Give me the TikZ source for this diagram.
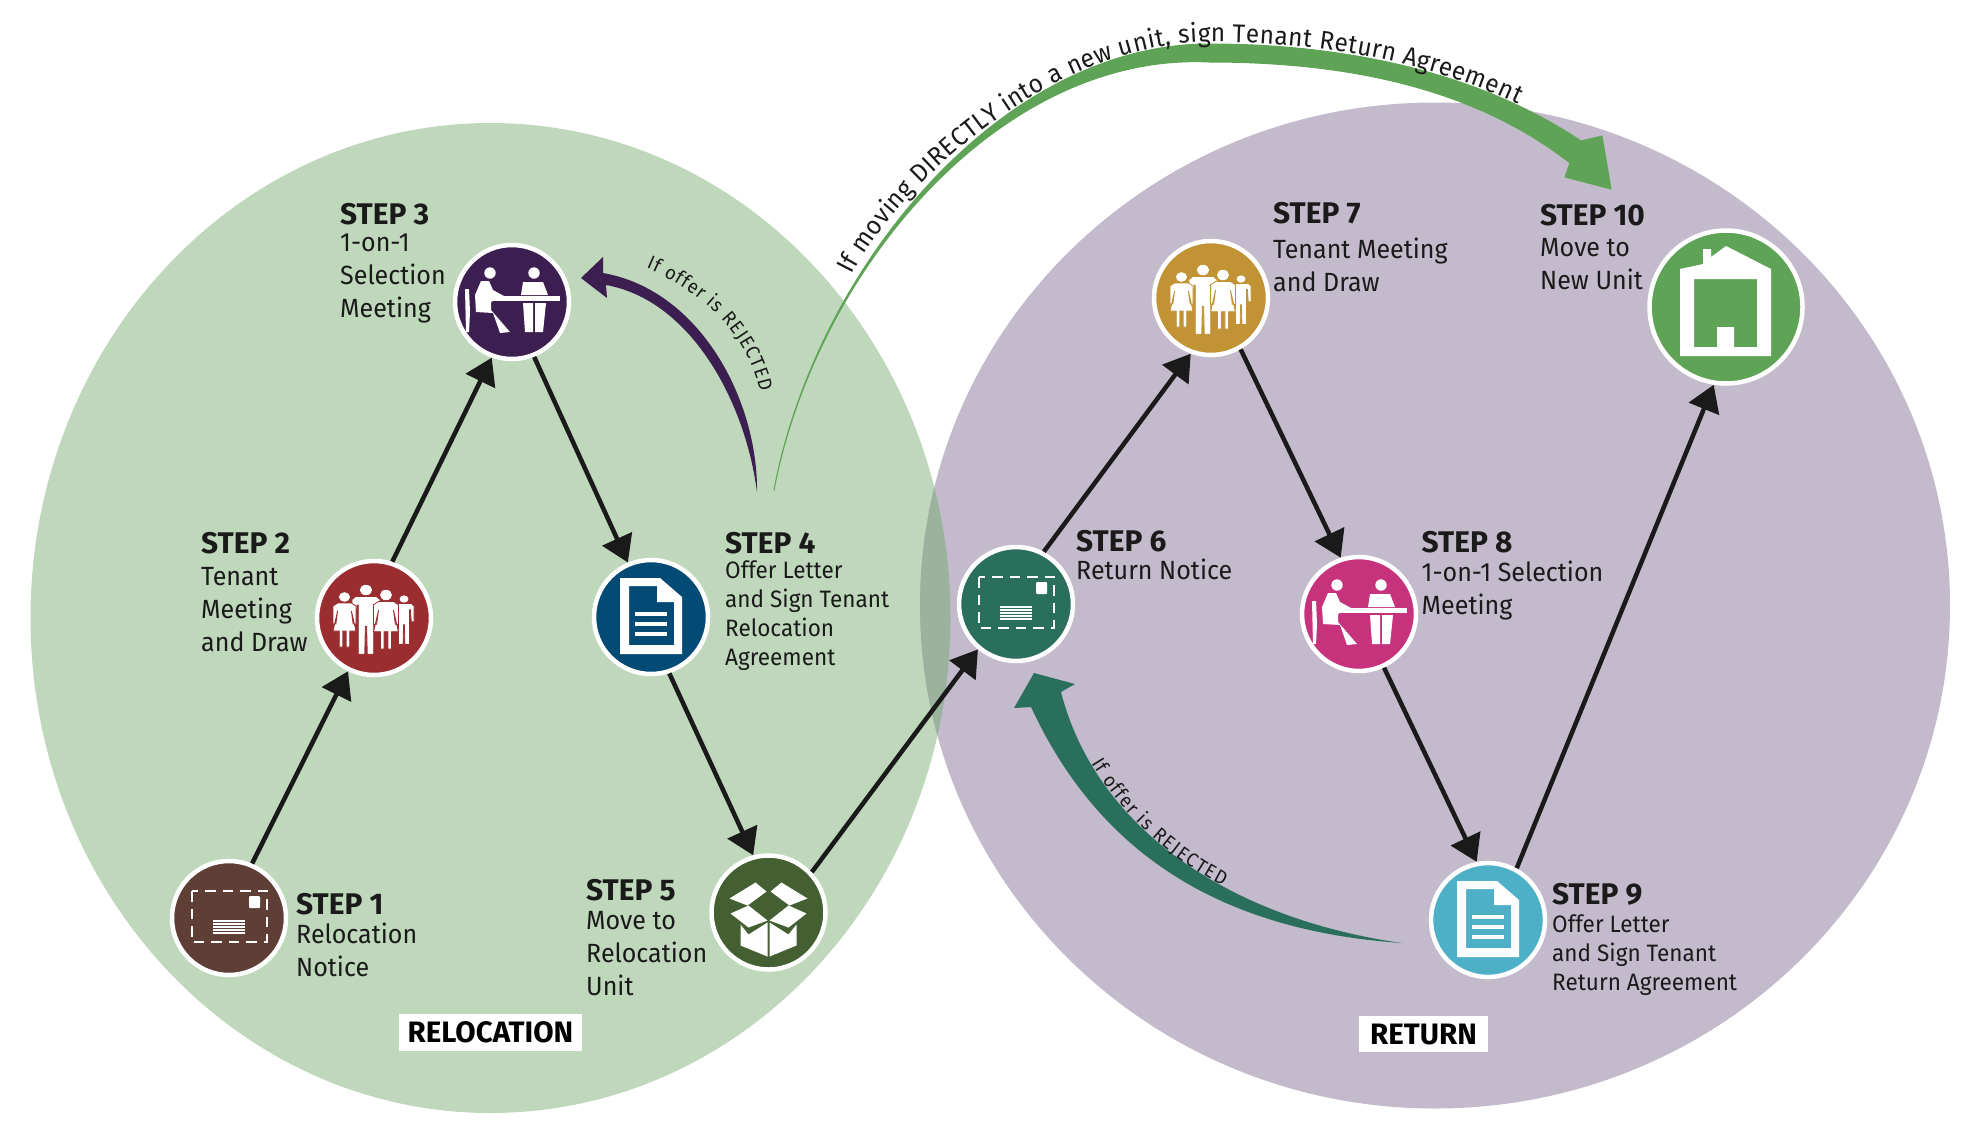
\documentclass[tikz,border=0pt]{standalone}
\usepackage{fontspec}
\setmainfont[FakeStretch=.95]{Fira Sans}
\newfontfamily\headfamily{Fira Sans}
\usepackage{xcolor}
\usepackage{tikz}
\usetikzlibrary{arrows.meta, decorations.text}

\definecolor{relocationgreen}{HTML}{BFD8BB}
\definecolor{returnpurple}{HTML}{C3BBCB}
\definecolor{overlapgreen}{HTML}{9BB39C}
\definecolor{inkblack}{HTML}{1A1A1A}
\definecolor{stepbrown}{HTML}{5F3F35}
\definecolor{stepred}{HTML}{9A2D2F}
\definecolor{stepplum}{HTML}{3C1E50}
\definecolor{stepblue}{HTML}{034A75}
\definecolor{stepolive}{HTML}{446033}
\definecolor{stepteal}{HTML}{2A6F5B}
\definecolor{stepgold}{HTML}{C19335}
\definecolor{stepmagenta}{HTML}{C6327C}
\definecolor{stepcyan}{HTML}{4EB0C7}
\definecolor{stepgreen}{HTML}{5FA356}

\newcommand{\stephead}[1]{{\headfamily\fontsize{8.5pt}{9.35pt}\selectfont\bfseries #1}}
\newcommand{\curvefont}{\fontsize{7.3pt}{8pt}\selectfont}
\newcommand{\rejectfont}{\fontsize{5.5pt}{6pt}\selectfont}

\begin{document}
\begin{tikzpicture}[
      x=.1mm,
      y=-.1mm,
      stepnode/.style={
        circle,
        draw=white,
        line width=.45mm,
        minimum size=11.4mm,
        inner sep=0pt
      },
      stepbig/.style={
        stepnode,
        minimum size=15.3mm
      },
      steparrow/.style={
        -{Triangle[length=2.6mm,width=3.2mm]},
        line width=.45mm,
        draw=inkblack
      },
      steplabel/.style={
        anchor=north west,
        align=left,
        inner sep=0pt,
        text=inkblack,
        font=\fontsize{7.5pt}{9.35pt}\selectfont
      },
      steplabelsmall/.style={
        steplabel,
        font=\fontsize{6.75pt}{8.24pt}\selectfont
      },
      regionbox/.style={
        fill=white,
        text=black,
        inner sep=0pt,
        minimum height=3.65mm,
        font=\headfamily\fontsize{8.4pt}{9pt}\selectfont\bfseries
      },
      iconfill/.style={
        fill=white,
        even odd rule
      },
      pics/envelope/.style={
        code={
          \draw[white, line width=.12mm, densely dashed] (-37,-27) rectangle (38,24);
          \fill[white, rounded corners=.1mm] (20,-22) rectangle (31,-10);
          \foreach \liney in {3,6,9,12,15}{
            \draw[white, line width=.14mm] (-16,\liney) -- (16,\liney);
          }
        }
      },
      pics/meeting/.style={
        code={
          \fill[iconfill] (-47,-13) -- (-43,-13) -- (-42,10) -- (-43,30) -- (-46,30) -- cycle;
          \fill[iconfill] (-22,-29) circle (.57mm);
          \fill[iconfill] (22,-29) circle (.57mm);
          \fill[iconfill] (-31,-21) -- (-23,-21) -- (-19,-12) -- (-8,-6) -- (-21,0) -- (-21,8)
            -- (-2,30) -- (-12,31) -- (-19,11) -- (-36,10) -- (-37,-7) -- cycle;
          \fill[iconfill] (-21,-6) rectangle (48,-1);
          \fill[iconfill] (11,-20) -- (31,-20) -- (36,-7) -- (9,-7) -- cycle;
          \fill[iconfill] (11,1) -- (21,1) -- (21,30) -- (13,30) -- cycle;
          \fill[iconfill] (23,1) -- (34,1) -- (31,30) -- (23,30) -- cycle;
        }
      },
      pics/family/.style={
        code={
          \foreach \fx/\fy/\fs in {-8/-28/1.07, 30/-19/.76}{
            \begin{scope}[shift={(\fx,\fy)}, xscale=1.2*\fs, yscale=\fs]
              \fill[white] (0,0) circle (.48mm);
              \filldraw[fill=white, draw=#1, line width=.08mm] (-8,6) -- (8,6) -- (11,9) -- (11,30) -- (8,30) -- (7,14)
                -- (6,14) -- (6,60) -- (1,60) -- (.5,34) -- (-.5,34) -- (-1,60) -- (-6,60)
                -- (-6,14) -- (-7,14) -- (-8,30) -- (-11,30) -- (-11,9) -- cycle;
            \end{scope}
          }
          \foreach \fx/\fy/\fs in {-29.5/-21/1, 12/-23/1.08}{
            \begin{scope}[shift={(\fx,\fy)}, xscale=1.15*\fs, yscale=\fs]
              \fill[white] (0,0) circle (.48mm);
              \filldraw[fill=white, draw=#1, line width=.08mm] (-6,6) -- (6,6) -- (10,9) -- (10,27) -- (7.5,27) -- (6,14)
                -- (10,34) -- (4.5,34) -- (4.5,50) -- (1.5,50) -- (1.5,34) -- (-1.5,34)
                -- (-1.5,50) -- (-4.5,50) -- (-4.5,34) -- (-10,34) -- (-6,14) -- (-7.5,27)
                -- (-10,27) -- (-10,9) -- cycle;
            \end{scope}
          }
        }
      },
      pics/document/.style={
        code={
          \fill[iconfill] (-31,-39) -- (9,-39) -- (31,-20) -- (31,37) -- (-31,37) -- cycle
            (-22,-31) -- (6,-31) -- (6,-15) -- (23,-15) -- (23,28) -- (-22,28) -- cycle;
          \foreach \liney in {-3,7,17}{
            \draw[white, line width=.35mm] (-16,\liney) -- (16,\liney);
          }
        }
      },
      pics/openbox/.style={
        code={
          \fill[iconfill] (-13,-30) -- (-39,-14) -- (-21,-7) -- (-2,-21) -- cycle;
          \fill[iconfill] (13,-30) -- (39,-14) -- (21,-7) -- (2,-21) -- cycle;
          \fill[iconfill] (-38,1) -- (-20,-7) -- (-1,8) -- (-20,15) -- cycle;
          \fill[iconfill] (38,1) -- (20,-7) -- (1,8) -- (20,15) -- cycle;
          \fill[iconfill] (-28,12) -- (-20,22) -- (-1,10) -- (-1,44) -- (-28,33) -- cycle;
          \fill[iconfill] (28,12) -- (20,22) -- (1,10) -- (1,44) -- (28,33) -- cycle;
        }
      },
      pics/house/.style={
        code={
          \fill[iconfill] (0,-61) -- (-15,-50) -- (-15,-58) -- (-23,-58) -- (-23,-43) -- (-46,-38)
            -- (-46,49) -- (45,49) -- (45,-38) -- cycle
            (-32,-28) -- (31,-28) -- (31,40) -- (8,40) -- (8,20) -- (-9,20) -- (-9,40) -- (-32,40) -- cycle;
        }
      }
    ]

    \useasboundingbox (0,0) rectangle (1982,1136);

    \fill[relocationgreen] (490.5,618) ellipse [x radius=4.6cm, y radius=4.95cm];
    \fill[returnpurple] (1435,605.5) ellipse [x radius=5.15cm, y radius=5.03cm];
    \begin{scope}
      \clip (490.5,618) ellipse [x radius=4.6cm, y radius=4.95cm];
      \fill[overlapgreen] (1435,605.5) ellipse [x radius=5.15cm, y radius=5.03cm];
    \end{scope}

    \node[stepnode, fill=stepbrown] (step1) at (229,918) {};
    \node[stepnode, fill=stepred] (step2) at (374,618) {};
    \node[stepnode, fill=stepplum] (step3) at (512,302) {};
    \node[stepnode, fill=stepblue] (step4) at (651,617) {};
    \node[stepnode, fill=stepolive] (step5) at (768.5,912.5) {};
    \node[stepnode, fill=stepteal] (step6) at (1016,604) {};
    \node[stepnode, fill=stepgold] (step7) at (1211,298) {};
    \node[stepnode, fill=stepmagenta] (step8) at (1359,614) {};
    \node[stepnode, fill=stepcyan] (step9) at (1488,920) {};
    \node[stepbig, fill=stepgreen] (step10) at (1726,307) {};

    \pic at (step1) {envelope};
    \pic at (step2) {family=stepred};
    \pic at (step3) {meeting};
    \pic at (step4) {document};
    \pic at (step5) {openbox};
    \pic at (step6) {envelope};
    \pic at (step7) {family=stepgold};
    \pic at (step8) {meeting};
    \pic at (step9) {document};
    \pic at (step10) {house};

    \draw[steparrow] (step1.67) -- (step2.244);
    \draw[steparrow] (step2.72) -- (step3.250);
    \draw[steparrow] (step3.-68) -- (step4.113);
    \draw[steparrow] (step4.-72) -- (step5.105);
    \draw[steparrow] (step5.43) -- (step6.230);
    \draw[steparrow] (step6.62) -- (step7.250);
    \draw[steparrow] (step7.-60) -- (step8.108);
    \draw[steparrow] (step8.-65) -- (step9.101);
    \draw[steparrow] (step9.61) -- (step10.261);

    \coordinate (offertail) at (757,492);
    \coordinate (offertip) at (581,278);
    \fill[stepplum] (offertail) .. controls (758,400) and (700,290) .. (603,273)
      -- (603,257) -- (offertip) -- (607,298) -- (606,285)
      .. controls (690,300) and (745,400) .. (offertail) -- cycle;

    \coordinate (returntail) at (1402,943);
    \coordinate (returntip) at (1034,673);
    \fill[stepteal] (returntail) .. controls (1225,918) and (1095,825) .. (1061,692)
      -- (1075,684) -- (returntip) -- (1014,708) -- (1031,707)
      .. controls (1095,845) and (1210,930) .. (returntail) -- cycle;

    \coordinate (directtail) at (774,490);
    \coordinate (directtip) at (1611,189);
    \filldraw[fill=stepgreen, draw=stepgreen, line width=.1mm, line join=round] (directtail) .. controls (815,270) and (1000,44) .. (1209,44)
      .. controls (1340,44) and (1475,70) .. (1581,141)
      -- (1602,136) -- (directtip) -- (1565,177) -- (1570,163)
      .. controls (1470,85) and (1340,62) .. (1209,62)
      .. controls (1000,52) and (816,270) .. (directtail) -- cycle;

    \path[decorate, decoration={text along path, text align={fit to path},
      text={|\curvefont\color{inkblack}|If moving DIRECTLY into a new unit, sign Tenant Return Agreement}}]
      (852,275) .. controls (892,194) and (1048,42) .. (1209,42) .. controls (1320,42) and (1430,62) .. (1518,104);

    \path[decorate, decoration={text along path, text align={fit to path},
      text={|\rejectfont\color{inkblack}|If offer is REJECTED}}]
      (646,268) .. controls (705,293) and (747,335) .. (760,392);

    \path[decorate, decoration={text along path, text align={fit to path},
      text={|\rejectfont\color{inkblack}|If offer is REJECTED}}]
      (1091,763) .. controls (1120,810) and (1160,853) .. (1223,886);

    \node[steplabel] (label1) at (295.5,893) {\stephead{STEP 1}\\[-.4mm]Relocation\\Notice};
    \node[steplabel] (label2) at (200.5,532) {\stephead{STEP 2}\\[-.1mm]Tenant\\Meeting\\and Draw};
    \node[steplabel] (label3) at (339.5,203) {\stephead{STEP 3}\\[-.6mm]1-on-1\\Selection\\Meeting};
    \node[steplabelsmall] (label4) at (724.5,532) {\stephead{STEP 4}\\[-.4mm]Offer Letter\\and Sign Tenant\\Relocation\\Agreement};
    \node[steplabel] (label5) at (585.5,879) {\stephead{STEP 5}\\[-.4mm]Move to\\Relocation\\Unit};
    \node[steplabel] (label6) at (1075.5,530) {\stephead{STEP 6}\\[-.5mm]Return Notice};
    \node[steplabel] (label7) at (1272.5,202) {\stephead{STEP 7}\\[.2mm]Tenant Meeting\\and Draw};
    \node[steplabel] (label8) at (1421,531) {\stephead{STEP 8}\\[-.4mm]1-on-1 Selection\\Meeting};
    \node[steplabelsmall] (label9) at (1551.5,883) {\stephead{STEP 9}\\[-.1mm]Offer Letter\\and Sign Tenant\\Return Agreement};
    \node[steplabel] (label10) at (1539.5,204) {\stephead{STEP 10}\\[-.2mm]Move to\\New Unit};

    \node[regionbox, minimum width=18.3mm] (relocation) at (490.5,1032.5) {RELOCATION};
    \node[regionbox, minimum width=12.9mm] (return) at (1423.5,1034) {RETURN};

    \end{tikzpicture}
\end{document}
